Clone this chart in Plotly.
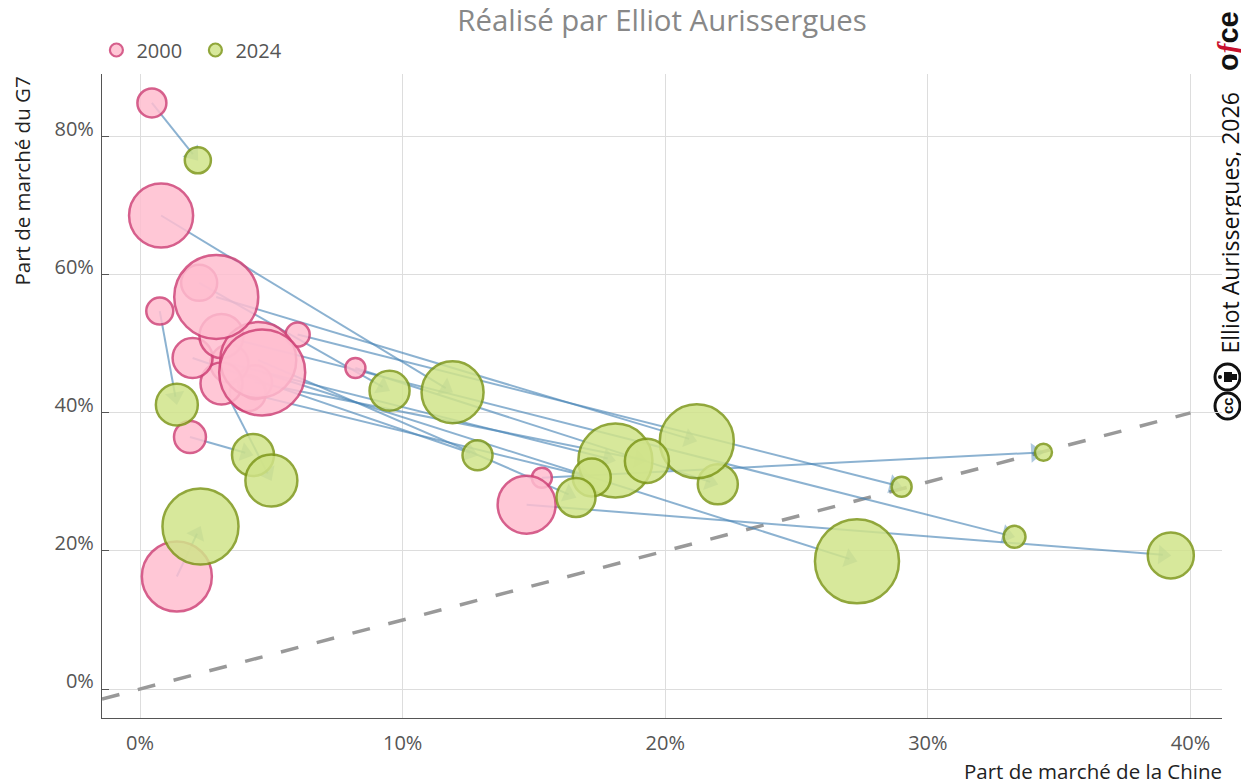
import plotly.graph_objects as go

x2000 = [0.45, 1.9, 8.2, 15.3, 6.0, 0.75, 2.25, 4.1, 4.38, 3.4, 3.1, 2.0, 3.1, 14.72, 0.8, 1.4, 4.5, 2.9, 4.65]
y2000 = [84.9, 36.5, 46.5, 30.6, 51.35, 54.75, 58.85, 42.85, 44.45, 47.15, 44.25, 47.95, 51.15, 26.7, 68.6, 16.3, 47.65, 56.8, 45.85]
w2000 = [8.4, 10.2, 4.0, 4.0, 5.8, 7.3, 13.0, 13.0, 11.5, 14.5, 17.6, 16.0, 19.4, 33.6, 41.0, 49.0, 57.8, 70.6, 74.0]
x2024 = [2.2, 4.3, 9.5, 34.4, 29.0, 1.4, 5.0, 12.85, 22.0, 11.9, 21.2, 18.1, 19.3, 39.25, 27.3, 2.3, 33.3, 17.2, 16.6]
y2024 = [76.6, 33.9, 43.2, 34.3, 29.3, 41.2, 30.2, 33.85, 29.65, 43.0, 35.9, 33.1, 33.05, 19.35, 18.5, 23.55, 22.05, 30.65, 27.75]
w2024 = [6.8, 17.6, 16.0, 2.9, 4.0, 17.6, 27.0, 9.0, 16.0, 38.4, 54.8, 54.8, 19.4, 21.2, 70.6, 57.8, 4.8, 14.4, 15.2]
target = [0, 1, 8, 3, 4, 5, 2, 17, 12, 11, 6, 7, 16, 13, 9, 15, 18, 10, 14]
x_ticks = [0, 10, 20, 30, 40]
y_ticks = [0, 20, 40, 60, 80]
x_ticktext = ["0%", "10%", "20%", "30%", "40%"]
y_ticktext = ["0%", "20%", "40%", "60%", "80%"]
x45 = [-1.45, 40]
y45 = [-1.45, 40]
title = "Réalisé par Elliot Aurissergues"

L, R, T, B = 102, 19, 74, 63
W, H = 1241, 781
FONT = "Open Sans"
BLUE = "rgba(70,130,180,0.62)"
PINK, PINK_LINE = "rgb(255,190,208)", "rgb(208,68,120)"
GREEN, GREEN_LINE = "rgb(209,228,138)", "rgb(126,152,26)"
OP = 0.85
px = lambda v: (v - L) / (W - L - R)
py = lambda v: 1 - (v - T) / (H - T - B)

fig = go.Figure()
fig.add_trace(go.Scatter(x=x45, y=y45, mode="lines", showlegend=False, hoverinfo="skip",
                         line=dict(color="#999999", width=3.5, dash="18px,19px")))
for i, j in enumerate(target):
    fig.add_trace(go.Scatter(
        x=[x2000[i], x2024[j]], y=[y2000[i], y2024[j]], mode="lines+markers",
        showlegend=False, hoverinfo="skip", line=dict(color=BLUE, width=2),
        marker=dict(symbol=["circle", "triangle-up"], size=[0, 17], angleref="previous", standoff=[0, 8],
                    color=BLUE, line=dict(width=0))))
fig.add_trace(go.Scatter(
    x=x2000, y=y2000, mode="markers", showlegend=False,
    marker=dict(size=w2000, sizemode="area", sizeref=0.02, color=PINK, opacity=OP,
                line=dict(color=PINK_LINE, width=2.5))))
fig.add_trace(go.Scatter(
    x=x2024, y=y2024, mode="markers", showlegend=False,
    marker=dict(size=w2024, sizemode="area", sizeref=0.02, color=GREEN, opacity=OP,
                line=dict(color=GREEN_LINE, width=2.5))))
for nm, c, lc in (("2000", PINK, PINK_LINE), ("2024", GREEN, GREEN_LINE)):
    fig.add_trace(go.Scatter(x=[None], y=[None], mode="markers", name=nm,
                             marker=dict(size=13, color=c, opacity=OP, line=dict(color=lc, width=2.2))))

ann = [
    dict(text="Part de marché de la Chine", xref="paper", yref="paper", x=1.002, y=py(771), xanchor="right",
         yanchor="middle", showarrow=False, font=dict(size=20.5, color="#222")),
    dict(text="Part de marché du G7", xref="paper", yref="paper", x=px(21), y=1, xanchor="center", yanchor="top",
         textangle=-90, showarrow=False, font=dict(size=20.5, color="#222")),
    dict(text="Elliot Aurissergues, 2026", xref="paper", yref="paper", x=px(1229), y=py(356), xanchor="center",
         yanchor="bottom", textangle=-90, showarrow=False, font=dict(size=23, color="#111")),
    dict(text="<b>o</b><span style='color:#c8102e;font-family:Liberation Serif'><b><i>f</i></b></span><b>ce</b>",
         xref="paper", yref="paper", x=px(1228), y=py(73), xanchor="center", yanchor="bottom",
         textangle=-90, showarrow=False, font=dict(size=29, color="#111", family="Liberation Sans")),
    dict(text="<b>cc</b>", xref="paper", yref="paper", x=px(1227), y=py(406), xanchor="center", yanchor="middle",
         textangle=-90, showarrow=False, font=dict(size=15, color="#111", family="Liberation Sans")),
]
shapes = []
for c in (406, 377):
    shapes.append(dict(type="circle", xref="paper", yref="paper", x0=px(1215), x1=px(1240),
                       y0=py(c + 13), y1=py(c - 13), line=dict(color="#111", width=3), fillcolor="white", layer="below"))
shapes.append(dict(type="circle", xref="paper", yref="paper", x0=px(1218), x1=px(1222),
                   y0=py(379), y1=py(375), fillcolor="#111", line=dict(width=0)))
shapes.append(dict(type="rect", xref="paper", yref="paper", x0=px(1224), x1=px(1232),
                   y0=py(382), y1=py(372), fillcolor="#111", line=dict(width=0)))
shapes.append(dict(type="rect", xref="paper", yref="paper", x0=px(1232), x1=px(1237),
                   y0=py(380), y1=py(374), fillcolor="#111", line=dict(width=0)))

fig.update_layout(
    width=W, height=H, margin=dict(l=L, r=R, t=T, b=B), paper_bgcolor="white", plot_bgcolor="white",
    font=dict(family=FONT, size=20, color="#555"),
    title=dict(text=title, x=662 / W, xanchor="center", y=1 - 21 / H, yanchor="middle",
               font=dict(size=29.4, color="#888", family=FONT)),
    legend=dict(orientation="h", x=-0.005, y=py(50), xanchor="left", yanchor="middle",
                font=dict(size=20, color="#555"), traceorder="normal", entrywidth=54, entrywidthmode="pixels"),
    annotations=ann, shapes=shapes, hovermode=False,
    xaxis=dict(range=[-1.45, 41.2], tickvals=x_ticks, ticktext=x_ticktext, showgrid=True, gridcolor="#dddddd",
               gridwidth=1.2, zeroline=False, showline=True, linecolor="#555", linewidth=1.2, ticks="",
               tickfont=dict(size=20, color="#555"), ticklabelstandoff=7),
    yaxis=dict(range=[-4.2, 89.1], tickvals=y_ticks, ticktext=y_ticktext, showgrid=True, gridcolor="#dddddd",
               gridwidth=1.2, zeroline=False, showline=True, linecolor="#555", linewidth=1.2, ticks="inside",
               ticklen=7, tickcolor="#555", tickfont=dict(size=20, color="#555"), ticklabelshift=-8,
               ticklabelstandoff=3),
)
fig.write_html("out.html", config=dict(displayModeBar=False),
               post_script="document.body.style.margin='0';")
